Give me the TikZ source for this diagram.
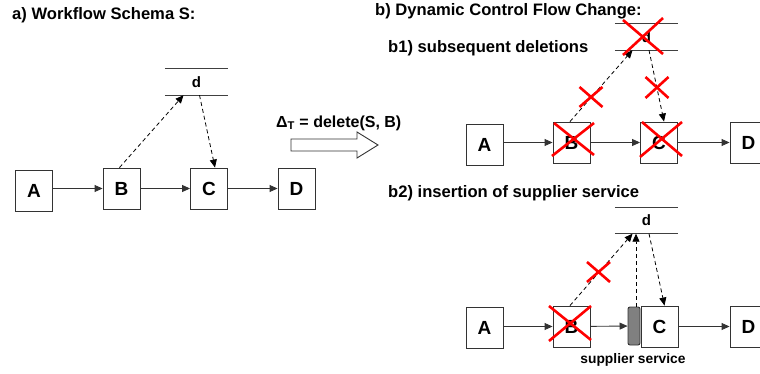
\documentclass[tikz,border=0pt]{standalone}
\usepackage{fontspec}
\setmainfont{Liberation Sans}
\usetikzlibrary{arrows.meta}
\tikzset{
  box/.style={draw=black!80, line width=0.9pt, minimum width=37pt, minimum height=41pt, inner sep=0pt, font=\fontsize{19}{19}\selectfont\bfseries},
  dnode/.style={minimum width=63pt, minimum height=26pt, inner sep=0pt, font=\fontsize{15}{15}\selectfont\bfseries},
  dline/.style={draw=black!75, line width=0.9pt},
  flow/.style={draw=black!80, line width=0.9pt, -{Triangle[length=8pt,width=7pt]}},
  dflow/.style={draw=black, line width=0.8pt, dash pattern=on 4pt off 3pt, -{Triangle[length=8pt,width=7pt]}},
  redx/.style={draw=red, line width=2.6pt},
  title/.style={anchor=west, inner sep=0pt, font=\fontsize{16.6}{16.6}\selectfont\bfseries},
  supp/.style={draw=black!80, fill=black!50, line width=0.9pt, rounded corners=2pt, minimum width=12pt, minimum height=38pt, inner sep=0pt},
}
\newcommand{\dbars}[1]{\draw[dline] (#1.north west) -- (#1.north east); \draw[dline] (#1.south west) -- (#1.south east);}
\begin{document}
\begin{tikzpicture}[x=1pt,y=-1pt]
\useasboundingbox (0,0) rectangle (760,374);
% ---------- a) ----------
\node[title] (ta) at (12,15) {a) Workflow Schema S:};
\node[box] (A1) at (34,190.5) {A};
\node[box] (B1) at (121.5,188.5) {B};
\node[box] (C1) at (209,188.5) {C};
\node[box] (D1) at (296.5,188.5) {D};
\node[dnode] (d1) at (196.5,82) {d};
\dbars{d1}
\draw[flow] (A1.east |- 0,188.5) -- (B1.west);
\draw[flow] (B1) -- (C1);
\draw[flow] (C1) -- (D1);
\draw[dflow] ([xshift=-2pt]B1.north) -- ([xshift=-13pt]d1.south);
\draw[dflow] ([xshift=3pt]d1.south) -- ([xshift=6pt]C1.north);
% ---------- change arrow ----------
\node[anchor=west, inner sep=0pt, font=\fontsize{16}{16}\selectfont\bfseries] (delta) at (276,123) {Δ\textsubscript{T} = delete(S, B)};
\draw[draw=black!80, line width=0.9pt] (291,139) -- (357,139) -- (357,132) -- (378,145) -- (357,158) -- (357,151) -- (291,151) -- cycle;
% ---------- b) ----------
\node[title] (tb) at (375,11) {b) Dynamic Control Flow Change:};
\node[title] (tb1) at (388,48) {b1) subsequent deletions};
\node[box] (A2) at (484.5,145) {A};
\node[box] (B2) at (571.5,142.5) {B};
\node[box] (C2) at (659,142.5) {C};
\node[box] (D2) at (748.5,142.5) {D};
\node[dnode] (d2) at (646.5,37) {d};
\dbars{d2}
\draw[flow] (A2.east |- 0,142.5) -- (B2.west);
\draw[flow] (B2) -- (C2);
\draw[flow] (C2) -- (D2);
\draw[dflow] ([xshift=-1.5pt]B2.north) -- ([xshift=-14pt]d2.south);
\draw[dflow] ([xshift=2.5pt]d2.south) -- ([xshift=5pt]C2.north);
% red crosses b1
\draw[redx] (623,20) -- (663,54) (663,18) -- (623,55);
\draw[redx] (579.5,87) -- (602.5,107) (602.5,87) -- (579.5,107);
\draw[redx] (645.5,77) -- (668.5,98) (668.5,77) -- (645.5,98);
\draw[redx] (554,123) -- (594,155) (594,123) -- (552,156);
\draw[redx] (642,122) -- (682,156) (682,122) -- (640,157);
% ---------- b2 ----------
\node[title] (tb2) at (388,193) {b2) insertion of supplier service};
\node[box] (A3) at (484.5,328) {A};
\node[box] (B3) at (571.5,326.5) {B};
\node[supp] (S3) at (634,326) {};
\node[box] (C3) at (659.5,326.5) {C};
\node[box] (D3) at (748.5,326.5) {D};
\node[dnode] (d3) at (646.5,220.5) {d};
\dbars{d3}
\node[inner sep=0pt, font=\fontsize{13.8}{13.8}\selectfont\bfseries] (sl) at (633,360) {supplier service};
\draw[flow] (A3.east |- 0,326.5) -- (B3.west);
\draw[flow] (B3) -- (S3);
\draw[flow] (C3) -- (D3);
\draw[dflow] ([xshift=-1.5pt]B3.north) -- ([xshift=-14pt]d3.south);
\draw[dflow] ([xshift=2pt]S3.north) -- ([xshift=-10.5pt]d3.south);
\draw[dflow] ([xshift=2.5pt]d3.south) -- ([xshift=5pt]C3.north);
\draw[redx] (549,306) -- (591,340) (591,306) -- (549,341);
\draw[redx] (587,262) -- (610,282) (610,262) -- (587,282);
\end{tikzpicture}
\end{document}
